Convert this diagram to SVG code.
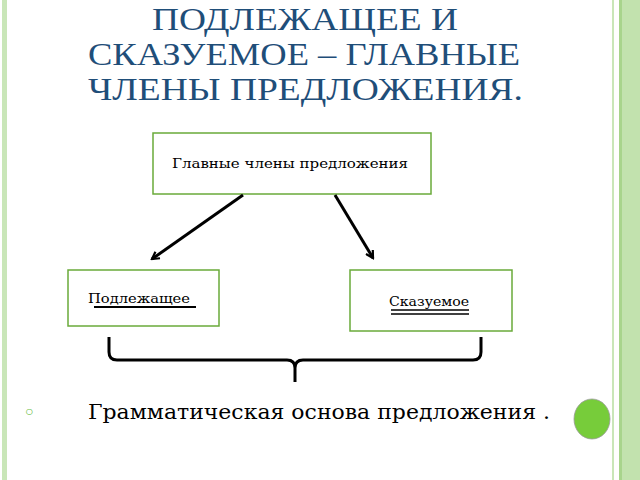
<svg xmlns="http://www.w3.org/2000/svg" width="640" height="480" viewBox="0 0 640 480">
<style>
.t{font-family:"DejaVu Serif","Liberation Serif",serif;fill:#000}
.h{font-family:"Liberation Serif",serif;font-size:31px;fill:#1f4e79}
.box{fill:#fff;stroke:#6aaa3a;stroke-width:1.5}
.c{stroke:#000;stroke-width:3;fill:none}
</style>
<defs><marker id="a" markerWidth="10" markerHeight="10" refX="8" refY="5" orient="auto" markerUnits="userSpaceOnUse"><path d="M1,1 L8,5 L1,9" fill="none" stroke="#000" stroke-width="2.2"/></marker></defs>
<rect width="640" height="480" fill="#fff"/>
<rect x="2" y="0" width="5" height="480" fill="#c9e6b8"/>
<rect x="612" y="0" width="2" height="480" fill="#c9e6b8"/>
<rect x="619" y="0" width="21" height="480" fill="#c2e2ae"/>
<rect x="619" y="0" width="3" height="480" fill="#a8d48c"/>
<text class="h" x="152" y="30" textLength="306" lengthAdjust="spacingAndGlyphs">ПОДЛЕЖАЩЕЕ И</text>
<text class="h" x="88" y="65" textLength="432" lengthAdjust="spacingAndGlyphs">СКАЗУЕМОЕ – ГЛАВНЫЕ</text>
<text class="h" x="88" y="100" textLength="435" lengthAdjust="spacingAndGlyphs">ЧЛЕНЫ ПРЕДЛОЖЕНИЯ.</text>
<g id="main"><rect class="box" x="153" y="133" width="278" height="61"/><text class="t" x="172" y="168" font-size="13" textLength="236" lengthAdjust="spacingAndGlyphs">Главные члены предложения</text></g>
<g id="subject"><rect class="box" x="68" y="270" width="151" height="56"/><text class="t" x="88" y="303" font-size="13" textLength="102" lengthAdjust="spacingAndGlyphs">Подлежащее</text><line x1="94" y1="307" x2="196" y2="307" stroke="#000" stroke-width="2"/></g>
<g id="predicate"><rect class="box" x="350" y="270" width="162" height="61"/><text class="t" x="389" y="306" font-size="13" textLength="80" lengthAdjust="spacingAndGlyphs">Сказуемое</text><line x1="391" y1="310" x2="469" y2="310" stroke="#000" stroke-width="1.5"/><line x1="391" y1="314" x2="469" y2="314" stroke="#000" stroke-width="1.5"/></g>
<g id="connectors">
<line class="c" x1="243" y1="195" x2="152" y2="259" marker-end="url(#a)"/>
<line class="c" x1="335" y1="195" x2="373" y2="258" marker-end="url(#a)"/>
<path class="c" d="M109,337 V352 Q109,360 117,360 H287 Q295,360 295,368 V382 M295,368 Q295,360 303,360 H473 Q481,360 481,352 V337"/>
</g>
<g id="basis"><text x="25" y="416" font-family="Liberation Sans,sans-serif" font-size="14" fill="#6cc04a">○</text>
<text class="t" x="88" y="419" font-size="20" textLength="462" lengthAdjust="spacingAndGlyphs">Грамматическая основа предложения .</text>
<ellipse cx="592" cy="419" rx="18" ry="20" fill="#77cc3a" stroke="#999" stroke-width="0.8"/></g>
</svg>
